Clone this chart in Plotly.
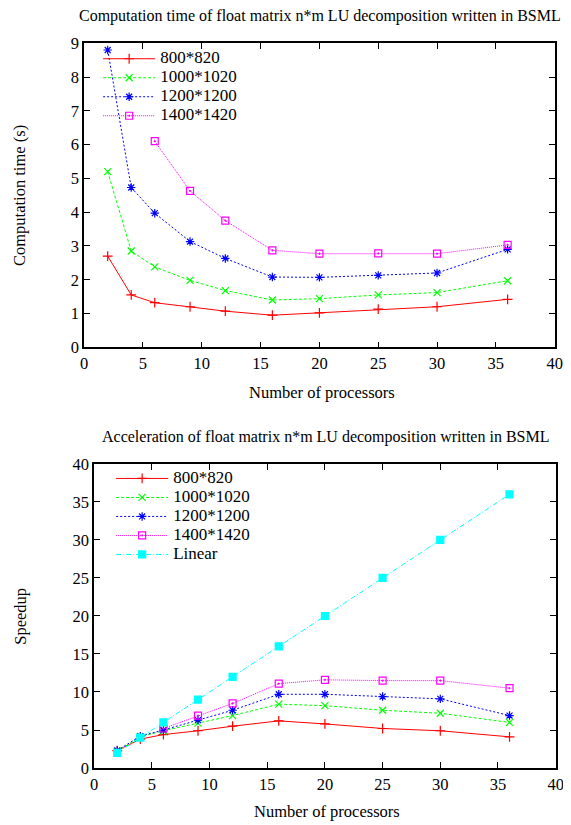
import plotly.graph_objects as go

procs = [2, 4, 6, 9, 12, 16, 20, 25, 30, 36]
procs_1400 = [6, 9, 12, 16, 20, 25, 30, 36]

time_800 = [2.7, 1.55, 1.32, 1.2, 1.07, 0.95, 1.02, 1.13, 1.2, 1.42]
time_1000 = [5.2, 2.85, 2.38, 1.98, 1.68, 1.4, 1.44, 1.55, 1.62, 1.97]
time_1200 = [8.8, 4.73, 3.97, 3.13, 2.63, 2.08, 2.07, 2.13, 2.2, 2.9]
time_1400 = [6.1, 4.63, 3.75, 2.87, 2.77, 2.78, 2.77, 3.03]

speed_800 = [2.3, 3.8, 4.4, 4.9, 5.5, 6.2, 5.8, 5.2, 4.9, 4.1]
speed_1000 = [2.2, 4.1, 4.9, 5.9, 6.9, 8.4, 8.2, 7.6, 7.2, 6.0]
speed_1200 = [2.3, 4.2, 5.0, 6.3, 7.6, 9.7, 9.7, 9.4, 9.1, 6.9]
speed_1400 = [5.2, 6.9, 8.5, 11.1, 11.6, 11.5, 11.5, 10.5]
speed_linear = [2, 4, 6, 9, 12, 16, 20, 25, 30, 36]

names = ["800*820", "1000*1020", "1200*1200", "1400*1420", "Linear"]
colors = ["#ff0000", "#00ff00", "#0000ff", "#ff00ff", "#00ffff"]
dashes = ["solid", "3px,2px", "2px,2px", "1px,1px", "5px,2px,1px,2px"]
symbols = ["cross-thin", "x-thin", "asterisk", "square-open-dot", "square"]

# empirical mapping from figure pixels to the photographed picture
S, OX, OY = 0.98, 12, 16
W, H = 571, 826
FONT = "Liberation Serif, Times New Roman, serif"
FS = 16.5
FT = 16

fig = go.Figure()

def add(xs, ys, i, xa, ya, legend):
    fig.add_trace(go.Scatter(
        x=xs, y=ys, name='<span style="font-size:17px">%s</span>' % names[i],
        mode="lines+markers",
        xaxis=xa, yaxis=ya, legend=legend,
        line=dict(color=colors[i], width=1, dash=dashes[i]),
        marker=dict(symbol=symbols[i], size=7, color=colors[i],
                    line=dict(color=colors[i], width=1.2)),
    ))

add(procs, time_800, 0, "x", "y", "legend")
add(procs, time_1000, 1, "x", "y", "legend")
add(procs, time_1200, 2, "x", "y", "legend")
add(procs_1400, time_1400, 3, "x", "y", "legend")

add(procs, speed_800, 0, "x2", "y2", "legend2")
add(procs, speed_1000, 1, "x2", "y2", "legend2")
add(procs, speed_1200, 2, "x2", "y2", "legend2")
add(procs_1400, speed_1400, 3, "x2", "y2", "legend2")
add(procs, speed_linear, 4, "x2", "y2", "legend2")

def px_x(r):
    return (r / S - OX) / W

def px_y(r):
    return 1 - (r / S - OY) / H

axis_common = dict(
    showline=True, linecolor="black", linewidth=1.5, mirror="ticks",
    ticks="inside", ticklen=6, tickcolor="black", tickwidth=1,
    showgrid=False, zeroline=False, ticklabeloverflow="allow",
    tickfont=dict(family=FONT, size=FS, color="black"),
)

legend_common = dict(xanchor="left", yanchor="top", bgcolor="rgba(0,0,0,0)",
                     font=dict(family=FONT, size=11.3, color="black"),
                     tracegroupgap=0, itemwidth=52)

fig.update_layout(
    width=W, height=H,
    margin=dict(l=0, r=0, t=0, b=0),
    paper_bgcolor="white", plot_bgcolor="white",
    font=dict(family=FONT, color="black"),
    xaxis=dict(domain=[px_x(84), px_x(555)], range=[0, 40], dtick=5, anchor="y", **axis_common),
    yaxis=dict(domain=[px_y(347), px_y(42)], range=[0, 9], dtick=1, anchor="x", **axis_common),
    xaxis2=dict(domain=[px_x(94), px_x(556)], range=[0, 40], dtick=5, anchor="y2", **axis_common),
    yaxis2=dict(domain=[px_y(769), px_y(464)], range=[0, 40], dtick=5, anchor="x2", **axis_common),
    legend=dict(x=px_x(98), y=px_y(43), **legend_common),
    legend2=dict(x=px_x(111), y=px_y(464), **legend_common),
    showlegend=True,
)

ann = dict(showarrow=False, xref="paper", yref="paper", font=dict(family=FONT, size=FT, color="black"))
fig.add_annotation(text="Computation time of float matrix n*m LU decomposition written in BSML",
                   x=px_x(320), y=px_y(15), xanchor="center", yanchor="middle", **ann)
fig.add_annotation(text="Acceleration of float matrix n*m LU decomposition written in BSML",
                   x=px_x(326), y=px_y(437), xanchor="center", yanchor="middle", **ann)
ann2 = dict(showarrow=False, xref="paper", yref="paper", font=dict(family=FONT, size=FS, color="black"))
fig.add_annotation(text="Number of processors", x=px_x(322), y=px_y(392), xanchor="center", yanchor="middle", **ann2)
fig.add_annotation(text="Number of processors", x=px_x(327), y=px_y(813), xanchor="center", yanchor="middle", **ann2)
fig.add_annotation(text="Computation time (s)", x=px_x(20), y=px_y(195), xanchor="center", yanchor="middle", textangle=-90, **ann2)
fig.add_annotation(text="Speedup", x=px_x(20), y=px_y(617), xanchor="center", yanchor="middle", textangle=-90, **ann2)

fig.write_html("out.html")
